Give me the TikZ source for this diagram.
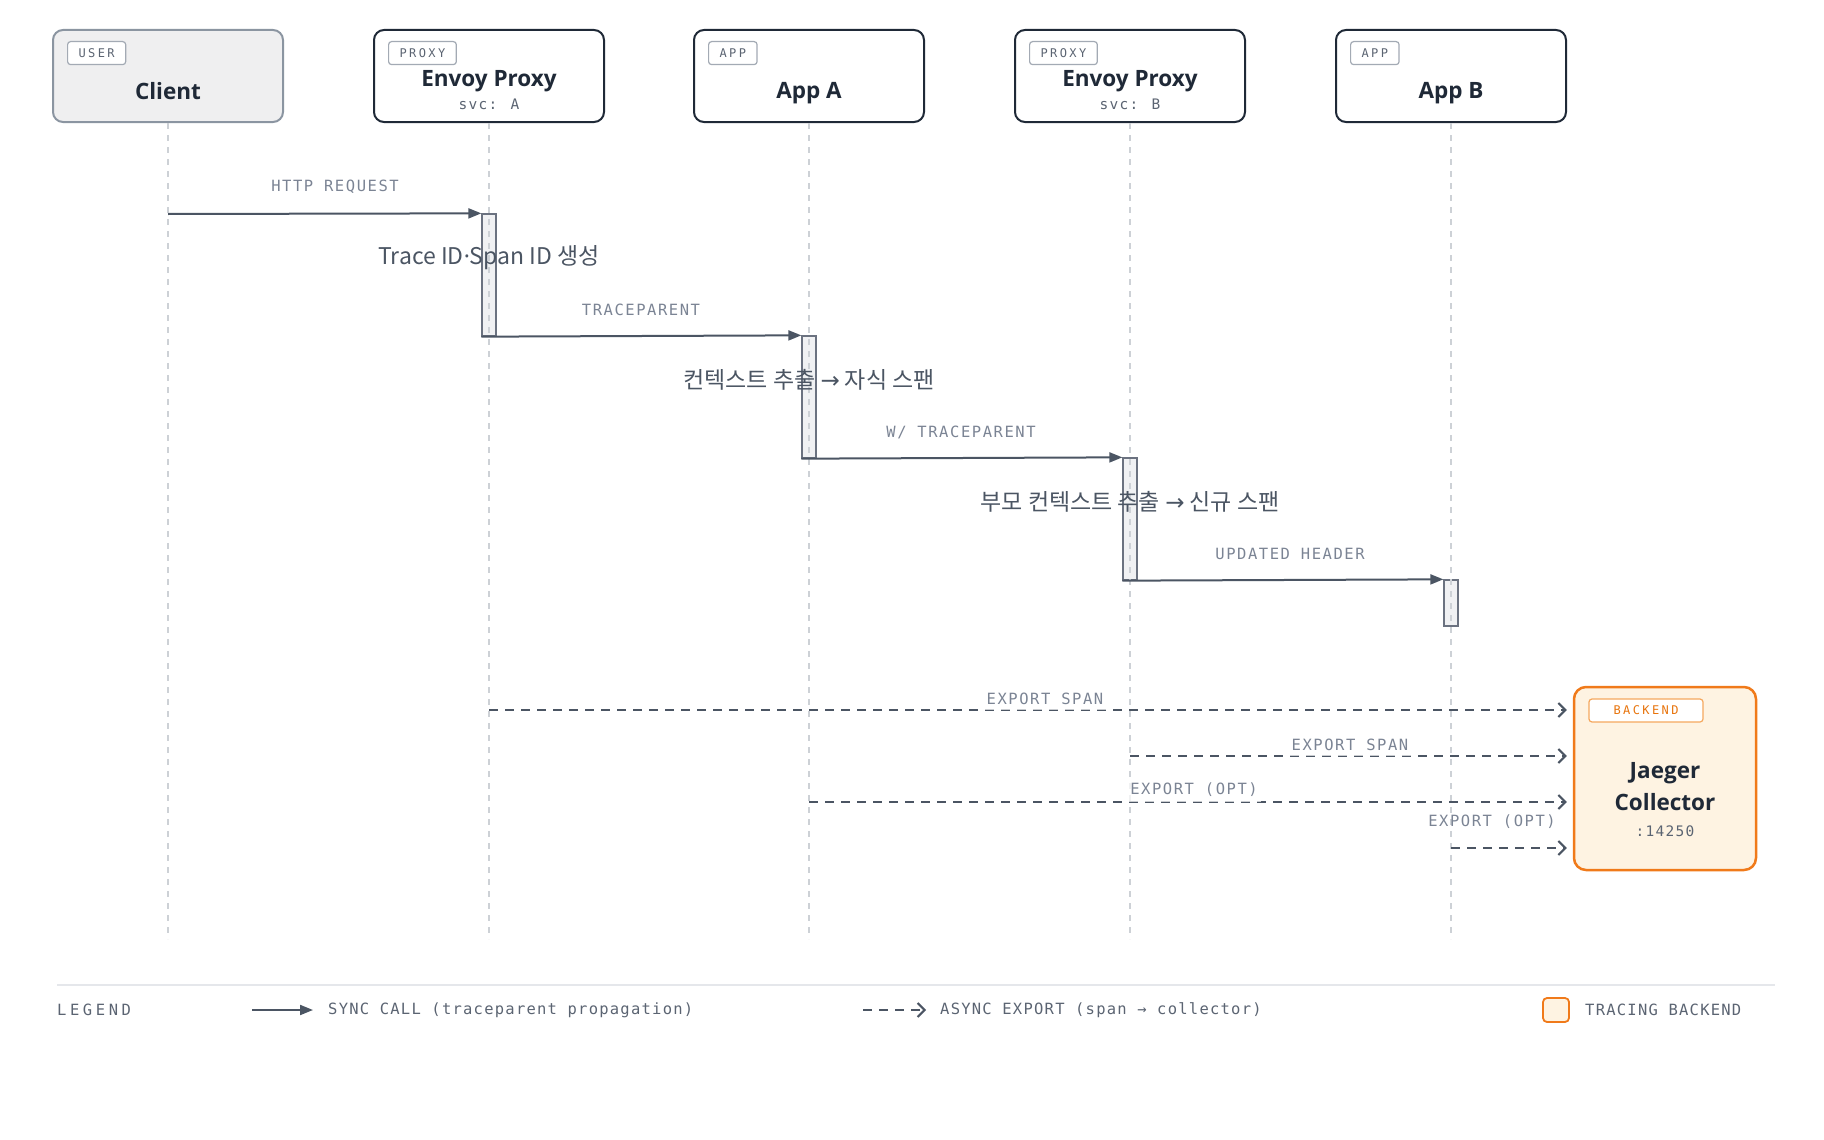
\documentclass[tikz,border=0pt]{standalone}
\usepackage{fontspec}
\setmainfont{Noto Sans}
\newfontfamily\lblfont[LetterSpace=10]{DejaVu Sans Mono}
\newfontfamily\legtfont[LetterSpace=8]{DejaVu Sans Mono}
\newfontfamily\legfont[LetterSpace=23]{DejaVu Sans Mono}
\newfontfamily\tagfont[LetterSpace=20]{DejaVu Sans Mono}
\newfontfamily\svcfont[LetterSpace=9]{DejaVu Sans Mono}
\newfontfamily\krfont{Noto Sans CJK KR}
\newfontfamily\arrowfont{DejaVu Sans}
\IfFontExistsTF{Noto Sans SemiBold}{\newfontfamily\titlefont{Noto Sans SemiBold}}{%
 \IfFontExistsTF{Noto Sans Bold}{\newfontfamily\titlefont{Noto Sans Bold}}{%
  \IfFontExistsTF{Open Sans SemiBold}{\newfontfamily\titlefont{Open Sans SemiBold}}{%
   \IfFontExistsTF{Open Sans Bold}{\newfontfamily\titlefont{Open Sans Bold}}{%
    \newfontfamily\titlefont[FakeBold=2]{Noto Sans}}}}}
\usetikzlibrary{arrows.meta}
\definecolor{ink}{HTML}{1F2937}
\definecolor{arrowc}{HTML}{4B5563}
\definecolor{lblc}{HTML}{7B8494}
\definecolor{lifec}{HTML}{CDD1D6}
\definecolor{barfill}{HTML}{F0F1F3}
\definecolor{barline}{HTML}{6B7280}
\definecolor{clientfill}{HTML}{EFEFF0}
\definecolor{clientline}{HTML}{8B95A1}
\definecolor{tagline}{HTML}{A3AAB4}
\definecolor{tagtext}{HTML}{5B6472}
\definecolor{orangec}{HTML}{F07A1A}
\definecolor{creamc}{HTML}{FEF3E2}
\definecolor{orangetag}{HTML}{F5A85E}
\definecolor{orangetext}{HTML}{E8740C}
\definecolor{notec}{HTML}{4B5563}
\definecolor{rulec}{HTML}{E5E7EB}
\newcommand{\notearrow}{{\arrowfont →}}
\begin{document}
\begin{tikzpicture}[x=1pt,y=-1pt,
  actor/.style={draw=ink, line width=2pt, rounded corners=10pt, fill=white, minimum width=230pt, minimum height=92pt, inner sep=0pt},
  userbox/.style={actor, draw=clientline, fill=clientfill},
  tagbox/.style={draw=tagline, line width=1.2pt, rounded corners=3pt, fill=white, font=\tagfont\fontsize{12}{14}\selectfont, text=tagtext, inner xsep=11pt, inner ysep=0pt, minimum height=23pt, anchor=north west},
  title/.style={font=\titlefont\fontsize{22.5}{26}\selectfont, text=ink, inner sep=0pt},
  svc/.style={font=\svcfont\fontsize{14.5}{17}\selectfont, text=tagtext, inner sep=0pt},
  life/.style={draw=lifec, line width=1.5pt, dash pattern=on 6pt off 6pt},
  bar/.style={draw=barline, fill=barfill, line width=1.3pt, minimum width=14pt, inner sep=0pt},
  sync/.style={draw=arrowc, line width=2pt, -{Triangle[length=13pt,width=10pt]}},
  async/.style={draw=arrowc, line width=2pt, dash pattern=on 9pt off 7pt, -{Straight Barb[length=7pt,width=14pt,line width=2pt]}},
  lbl/.style={font=\lblfont\fontsize{15.5}{18}\selectfont, text=lblc, inner sep=0pt},
  explbl/.style={lbl, fill=white, fill opacity=0.7, text opacity=1, inner xsep=3pt, inner ysep=5pt},
  note/.style={font=\krfont\fontsize{23}{26}\selectfont, text=notec, inner sep=0pt},
  legtext/.style={font=\legtfont\fontsize{15.5}{18}\selectfont, text=tagtext, inner sep=0pt, anchor=west}
]
\useasboundingbox (0,0) rectangle (1824,1140);

% actor boxes
\node[userbox] (client) at (168,76) {};
\node[actor] (pa) at (489,76) {};
\node[actor] (aa) at (809,76) {};
\node[actor] (pb) at (1130,76) {};
\node[actor] (ab) at (1451,76) {};

\node[tagbox] (tuser) at ([shift={(15pt,-12pt)}]client.north west) {USER};
\node[tagbox] (tpa) at ([shift={(15pt,-12pt)}]pa.north west) {PROXY};
\node[tagbox] (taa) at ([shift={(15pt,-12pt)}]aa.north west) {APP};
\node[tagbox] (tpb) at ([shift={(15pt,-12pt)}]pb.north west) {PROXY};
\node[tagbox] (tab) at ([shift={(15pt,-12pt)}]ab.north west) {APP};

\node[title] (nclient) at (168,91) {Client};
\node[title] (npa) at (489,81.5) {Envoy Proxy};
\node[svc] (spa) at (489,104.5) {svc: A};
\node[title] (naa) at (809,93.5) {App A};
\node[title] (npb) at (1130,81.5) {Envoy Proxy};
\node[svc] (spb) at (1130,104.5) {svc: B};
\node[title] (nab) at (1451,93.5) {App B};

% activation bars
\node[bar, minimum height=122pt] (bpa) at (489,275) {};
\node[bar, minimum height=122pt] (baa) at (809,397) {};
\node[bar, minimum height=122pt] (bpb) at (1130,519) {};
\node[bar, minimum height=46pt] (bab) at (1451,603) {};

% lifelines
\coordinate (lc) at (168,939);
\coordinate (lpa) at (489,939);
\coordinate (laa) at (809,939);
\coordinate (lpb) at (1130,939);
\coordinate (lab) at (1451,939);
\draw[life] (client.south) -- (lc);
\draw[life] (pa.south) -- (lpa);
\draw[life] (aa.south) -- (laa);
\draw[life] (pb.south) -- (lpb);
\draw[life] (ab.south) -- (lab);

% sync calls
\coordinate (h1) at (168,214);
\draw[sync] (h1) -- (bpa.north west);
\draw[sync] (bpa.south west) -- (baa.north west);
\draw[sync] (baa.south west) -- (bpb.north west);
\draw[sync] (bpb.south west) -- (bab.north west);

\node[lbl] (l1) at (335,187) {HTTP REQUEST};
\node[lbl] (l2) at (641,310) {TRACEPARENT};
\node[lbl] (l3) at (961,432) {W/ TRACEPARENT};
\node[lbl] (l4) at (1290,554) {UPDATED HEADER};

\node[note] (n1) at (489,258) {Trace ID{\rmfamily\fontsize{23}{26}\selectfont·}Span ID 생성};
\node[note] (n2) at (809,380) {컨텍스트 추출 \notearrow{} 자식 스팬};
\node[note] (n3) at (1130,502) {부모 컨텍스트 추출 \notearrow{} 신규 스팬};

% collector
\node[draw=orangec, fill=creamc, line width=2.5pt, rounded corners=12pt, minimum width=182pt, minimum height=183pt, inner sep=0pt] (col) at (1665,778.5) {};
\node[draw=orangetag, fill=white, line width=1.2pt, rounded corners=3pt, minimum width=114pt, minimum height=23pt, inner sep=0pt, font=\tagfont\fontsize{12}{14}\selectfont, text=orangetext] (tcol) at (1646,710.5) {BACKEND};
\node[title] (ncol1) at (1665,773) {Jaeger};
\node[title] (ncol2) at (1665,802) {Collector};
\node[svc] (ncol3) at (1665,831) {:14250};

% async exports
\coordinate (e1) at (489,710);
\coordinate (e2) at (1130,756);
\coordinate (e3) at (809,802);
\coordinate (e4) at (1451,848);
\draw[async, shorten >=6pt] (e1) -- (e1 -| col.west);
\draw[async, shorten >=6pt] (e2) -- (e2 -| col.west);
\draw[async, shorten >=6pt] (e3) -- (e3 -| col.west);
\draw[async, shorten >=6pt] (e4) -- (e4 -| col.west);
\node[explbl] (x1) at (1045,699) {EXPORT SPAN};
\node[explbl] (x2) at (1350,745) {EXPORT SPAN};
\node[explbl] (x3) at (1194,790) {EXPORT (OPT)};
\node[lbl] (x4) at (1492,822) {EXPORT (OPT)};

% legend
\coordinate (r1) at (57,985);
\coordinate (r2) at (1775,985);
\draw[draw=rulec, line width=1.5pt] (r1) -- (r2);
\node[font=\legfont\fontsize{15.5}{18}\selectfont, text=tagtext, inner sep=0pt, anchor=west] (leg) at (57,1010) {LEGEND};
\coordinate (ls1) at (252,1010);
\coordinate (ls2) at (313,1010);
\draw[sync] (ls1) -- (ls2);
\node[legtext] (lt1) at (328,1010) {SYNC CALL (traceparent propagation)};
\coordinate (la1) at (863,1010);
\coordinate (la2) at (926,1010);
\draw[async] (la1) -- (la2);
\node[legtext] (lt2) at (940,1010) {ASYNC EXPORT (span → collector)};
\node[draw=orangec, fill=creamc, line width=1.8pt, rounded corners=4pt, minimum width=26pt, minimum height=24pt, inner sep=0pt] (sw) at (1556,1010) {};
\node[legtext] (lt3) at (1585,1010) {TRACING BACKEND};
\end{tikzpicture}
\end{document}
